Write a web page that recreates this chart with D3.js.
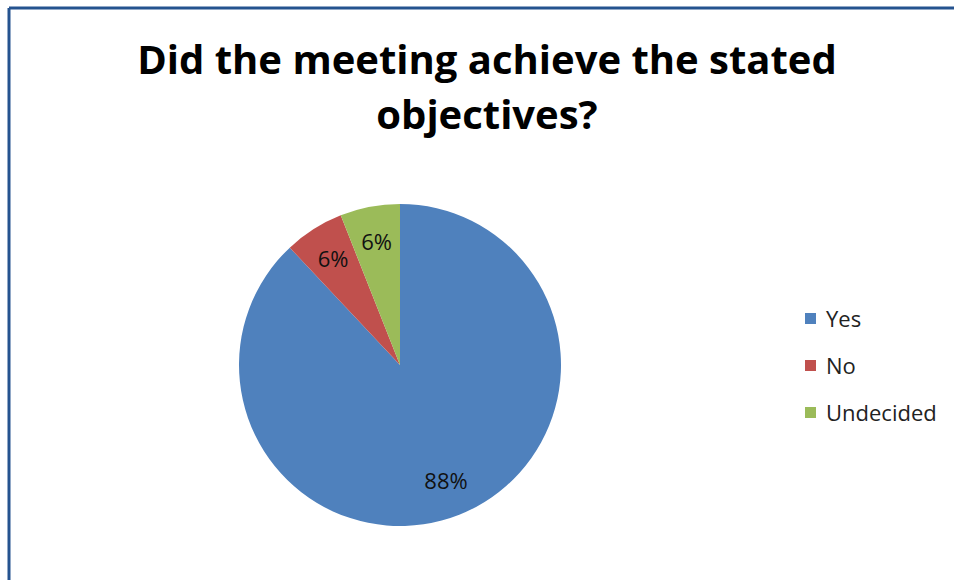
<!DOCTYPE html>
<html>
<head>
<meta charset="utf-8">
<script src="https://cdn.jsdelivr.net/npm/d3@7"></script>
<style>
    body { margin: 0; background: #fff; }
    text { font-family: "Open Sans", Lato, sans-serif; }
</style>
</head>
<body>
<div id="chart"></div>
<script>
// Chart data
var categories = ["Yes", "No", "Undecided"];
var shares = [88, 6, 6];
var colors = ["#4F81BD", "#C0504D", "#9BBB59"];
var titleLines = ["Did the meeting achieve the stated", "objectives?"];

var width = 954, height = 580;

var svg = d3.select("#chart")
    .append("svg")
    .attr("width", width)
    .attr("height", height);

// Frame: only top and left edges visible
svg.append("line")
    .attr("x1", 9).attr("y1", 8).attr("x2", width).attr("y2", 8)
    .style("stroke", "#25538f").style("stroke-width", 3);
svg.append("line")
    .attr("x1", 9).attr("y1", 8).attr("x2", 9).attr("y2", height)
    .style("stroke", "#25538f").style("stroke-width", 3);

// Title
svg.selectAll(".title")
    .data(titleLines)
    .enter()
    .append("text")
    .attr("class", "title")
    .attr("x", 487)
    .attr("y", (d, i) => 74 + i * 55)
    .attr("text-anchor", "middle")
    .style("font-size", "40px")
    .style("font-weight", "bold")
    .style("fill", "#000")
    .text(d => d);

// Pie
var cx = 400, cy = 365, radius = 161;
var pie = d3.pie().sort(null).value(d => d);
var arc = d3.arc().innerRadius(0).outerRadius(radius);
var labelArc = d3.arc().innerRadius(125).outerRadius(125);

var g = svg.append("g").attr("transform", "translate(" + cx + "," + cy + ")");

var slices = g.selectAll(".slice")
    .data(pie(shares))
    .enter()
    .append("g")
    .attr("class", "slice");

slices.append("path")
    .attr("d", arc)
    .style("fill", (d, i) => colors[i]);

slices.append("text")
    .attr("transform", d => "translate(" + labelArc.centroid(d) + ")")
    .attr("text-anchor", "middle")
    .attr("dy", "0.35em")
    .style("font-size", "22px")
    .style("fill", "#111")
    .text(d => d.data + "%");

// Legend
var legend = svg.selectAll(".legend")
    .data(categories)
    .enter()
    .append("g")
    .attr("class", "legend")
    .attr("transform", (d, i) => "translate(805," + (319 + i * 47) + ")");

legend.append("rect")
    .attr("x", 0).attr("y", -6)
    .attr("width", 11).attr("height", 11)
    .style("fill", (d, i) => colors[i]);

legend.append("text")
    .attr("x", 21)
    .attr("dy", "0.35em")
    .style("font-size", "22px")
    .style("fill", "#222")
    .text(d => d);
</script>
</body>
</html>
